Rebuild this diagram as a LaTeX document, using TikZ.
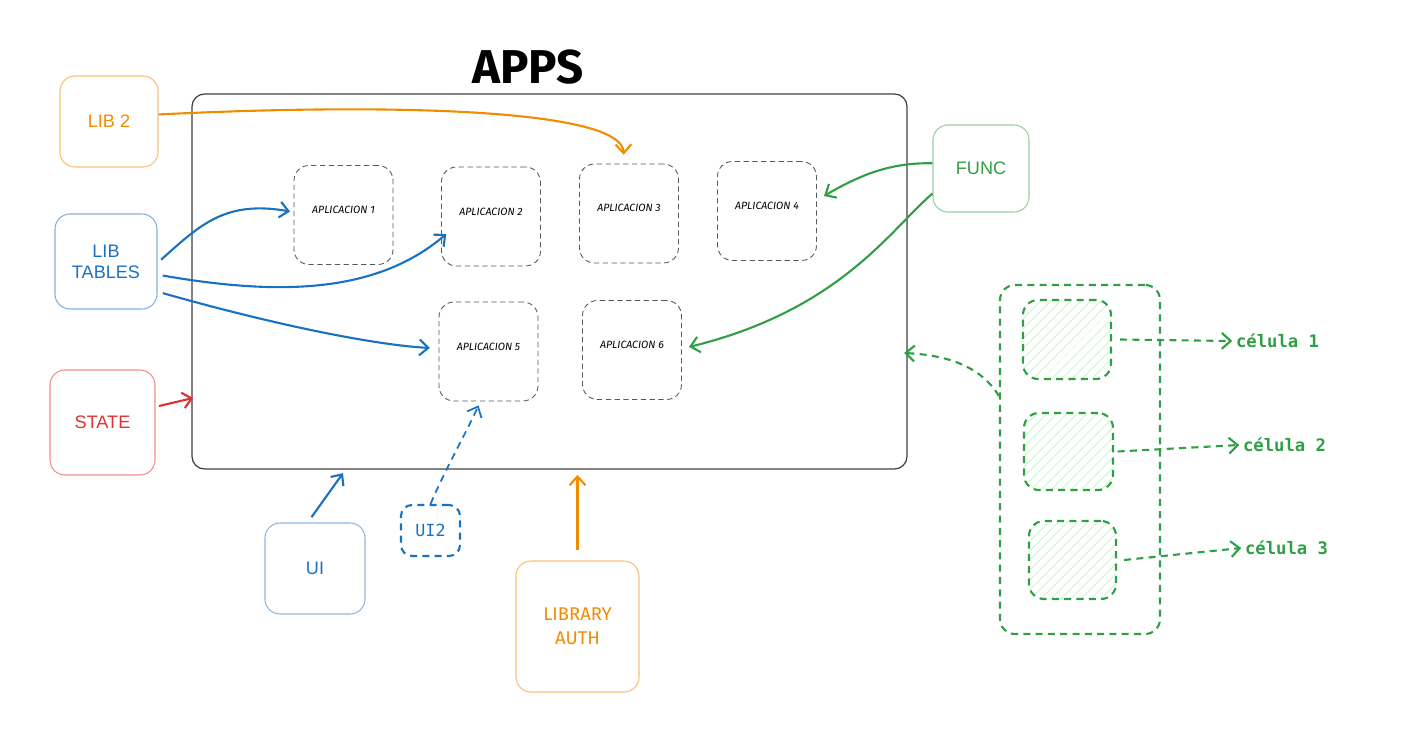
\documentclass[tikz,border=0pt]{standalone}
\usepackage{fontspec}
\setmainfont{Liberation Sans}
\newfontfamily\handfont{Fira Sans}
\newfontfamily\codefont{DejaVu Sans Mono}
\usepackage{tikz}
\usetikzlibrary{arrows.meta, positioning, patterns.meta}

\definecolor{exorange}{HTML}{F08C00}
\definecolor{exblue}{HTML}{1971C2}
\definecolor{exred}{HTML}{E03131}
\definecolor{exgreen}{HTML}{2F9E44}
\definecolor{exhatch}{HTML}{B2F2BB}

\begin{document}
\begin{tikzpicture}[
    libbox/.style={draw, rounded corners=0.3cm, line width=0.6pt, align=center, font=\fontsize{10.3}{12}\selectfont},
    appbox/.style={draw=black!65, dashed, dash pattern=on 3pt off 2pt, line width=0.5pt, rounded corners=0.3cm,
        minimum width=1.98cm, minimum height=1.98cm, text height=0.15cm, text depth=0.21cm,
        font=\handfont\itshape\fontsize{6}{7}\selectfont},
    cellbox/.style={draw=exgreen, line width=1.2pt, dash pattern=on 4pt off 3pt, rounded corners=0.3cm,
        pattern={Lines[angle=45, distance=4pt, line width=0.4pt]}, pattern color=exhatch},
    celltext/.style={anchor=west, inner sep=1pt, text=exgreen, font=\codefont\bfseries\fontsize{9.8}{11}\selectfont},
    arrow/.style={-{Straight Barb[length=5pt, width=9pt]}, line width=1.2pt},
    dasharrow/.style={arrow, dash pattern=on 4pt off 3pt}
]
\useasboundingbox (0,0) rectangle (28.08,-15.1);

% Main container
\node[draw=black!75, line width=0.7pt, rounded corners=0.25cm, minimum width=14.3cm, minimum height=7.5cm] (apps) at (10.99,-5.63) {};
\node[font=\handfont\bfseries\fontsize{27}{30}\selectfont] (title) at (10.56,-1.34) {APPS};

% Applications
\node[appbox] (app1) at (6.87,-4.3) {APLICACION 1};
\node[appbox] (app2) at (9.82,-4.33) {APLICACION 2};
\node[appbox] (app3) at (12.58,-4.27) {APLICACION 3};
\node[appbox] (app4) at (15.34,-4.22) {APLICACION 4};
\node[appbox] (app5) at (9.77,-7.03) {APLICACION 5};
\node[appbox] (app6) at (12.64,-7.0) {APLICACION 6};

% Libraries on the left
\node[libbox, draw=exorange!55, text=exorange, minimum width=1.96cm, minimum height=1.82cm] (lib2) at (2.18,-2.43) {LIB 2};
\node[libbox, draw=exblue!55, text=exblue, minimum width=2.04cm, minimum height=1.9cm] (libtables) at (2.12,-5.23) {LIB\\TABLES};
\node[libbox, draw=exred!55, text=exred, minimum width=2.1cm, minimum height=2.1cm] (state) at (2.05,-8.45) {STATE};

% Bottom
\node[libbox, draw=exblue!50, text=exblue, minimum width=2.0cm, minimum height=1.82cm] (ui) at (6.3,-11.37) {UI};
\node[draw=exblue, line width=1.2pt, dash pattern=on 4pt off 3pt, rounded corners=0.22cm, text=exblue,
    minimum width=1.18cm, minimum height=1.02cm, font=\codefont\fontsize{9.5}{11}\selectfont] (ui2) at (8.61,-10.61) {UI2};
\node[libbox, draw=exorange!55, text=exorange, minimum width=2.46cm, minimum height=2.62cm,
    font=\handfont\fontsize{10.5}{13.6}\selectfont] (auth) at (11.55,-12.53) {LIBRARY\\AUTH};

% Right side
\node[libbox, draw=exgreen!50, text=exgreen, minimum width=1.92cm, minimum height=1.74cm] (func) at (19.62,-3.37) {FUNC};
\node[draw=exgreen, line width=1.2pt, dash pattern=on 4pt off 3pt, rounded corners=0.3cm,
    minimum width=3.2cm, minimum height=6.98cm] (cells) at (21.6,-9.19) {};
\node[cellbox, minimum width=1.76cm, minimum height=1.58cm] (cell1) at (21.34,-6.79) {};
\node[cellbox, minimum width=1.78cm, minimum height=1.54cm] (cell2) at (21.37,-9.03) {};
\node[cellbox, minimum width=1.74cm, minimum height=1.56cm] (cell3) at (21.45,-11.2) {};
\node[celltext] (lbl1) at (24.68,-6.82) {célula 1};
\node[celltext] (lbl2) at (24.82,-8.9) {célula 2};
\node[celltext] (lbl3) at (24.86,-10.96) {célula 3};

% Connectors
\draw[arrow, exorange] ([yshift=4pt]lib2.east) .. controls (8,-2.05) and (12.45,-2.2) .. ([xshift=-3pt,yshift=5pt]app3.north);
\draw[arrow, exblue] ([xshift=2pt,yshift=1pt]libtables.east) .. controls (4.0,-4.5) and (4.5,-4.0) .. ([xshift=-2pt,yshift=2pt]app1.west);
\draw[arrow, exblue] ([xshift=3pt,yshift=-8pt]libtables.east) .. controls (5.5,-5.9) and (7.5,-5.9) .. ([xshift=3pt,yshift=0.65cm]app2.south west);
\draw[arrow, exblue] ([xshift=3pt,yshift=-18pt]libtables.east) .. controls (5.5,-6.5) and (7.5,-6.9) .. ([xshift=-5pt,yshift=2pt]app5.west);
\draw[arrow, exred] ([xshift=2pt,yshift=0.33cm]state.east) -- ([xshift=1pt,yshift=-2.33cm]apps.west);
\draw[arrow, exblue] ([xshift=-2pt,yshift=3pt]ui.north) -- ([xshift=0.56cm,yshift=-2pt]ui.north |- apps.south);
\draw[dasharrow, line width=1pt, exblue] (ui2.north) .. controls (8.9,-9.4) and (9.3,-8.7) .. ([xshift=-0.2cm,yshift=-0.08cm]app5.south);
\draw[arrow, exorange] ([yshift=6pt]auth.north) -- ([yshift=-3pt]auth.north |- apps.south);
\draw[arrow, exgreen] ([yshift=3pt]func.west) .. controls (17.8,-3.25) and (17.2,-3.5) .. ([xshift=4pt,yshift=0.3cm]app4.east);
\draw[arrow, exgreen] ([yshift=-0.5cm]func.west) .. controls (17.8,-4.6) and (16.8,-6.2) .. ([xshift=4pt,yshift=0.06cm]app6.east);
\draw[dasharrow, exgreen] ([yshift=1.27cm]cells.west) .. controls (19.6,-7.3) and (18.9,-7.1) .. ([xshift=-2pt,yshift=-1.43cm]apps.east);
\draw[dasharrow, exgreen] ([xshift=5pt]cell1.east) -- ([xshift=-1pt]lbl1.west);
\draw[dasharrow, exgreen] ([xshift=2pt]cell2.east) -- ([xshift=-1pt]lbl2.west);
\draw[dasharrow, exgreen] ([xshift=4pt]cell3.east) -- ([xshift=-1pt]lbl3.west);

\end{tikzpicture}
\end{document}
